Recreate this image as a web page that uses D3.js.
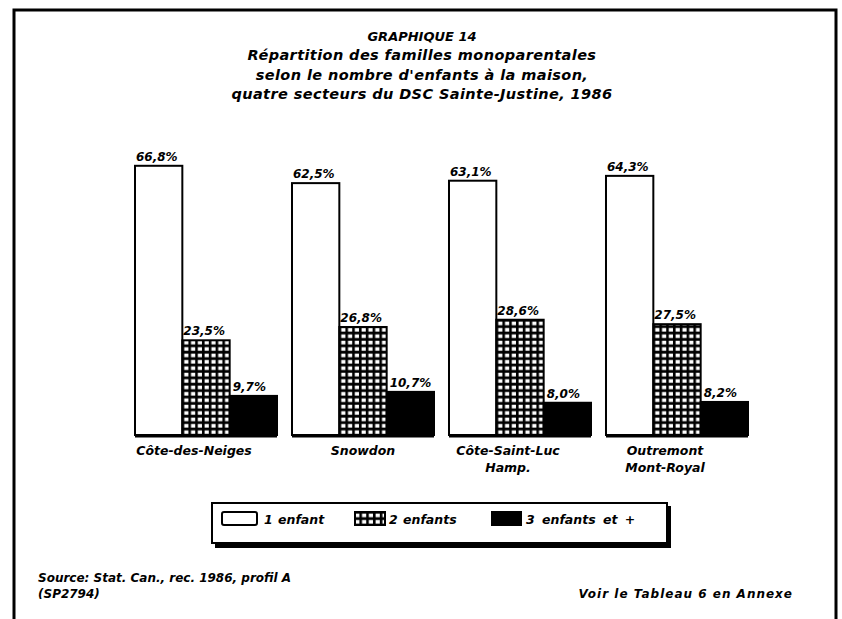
<!DOCTYPE html>
<html>
<head>
<meta charset="utf-8">
<script src="https://cdn.jsdelivr.net/npm/d3@7"></script>
<style>
  body { margin: 0; background: #fff; }
  svg { display: block; }
  text { font-family: "DejaVu Sans", sans-serif; font-weight: bold; font-style: italic; fill: #000; }
</style>
</head>
<body>
<div id="chart"></div>
<script>
// data
const categories = [['Côte-des-Neiges'], ['Snowdon'], ['Côte-Saint-Luc', 'Hamp.'], ['Outremont', 'Mont-Royal']];
const seriesNames = ['1 enfant', '2 enfants', '3 enfants et +'];
const oneChild = [66.8, 62.5, 63.1, 64.3];
const twoChildren = [23.5, 26.8, 28.6, 27.5];
const threePlus = [9.7, 10.7, 8.0, 8.2];
const titleLines = [
  'GRAPHIQUE 14',
  'Répartition des familles monoparentales',
  "selon le nombre d'enfants à la maison,",
  'quatre secteurs du DSC Sainte-Justine, 1986'
];
const sourceLines = ['Source: Stat. Can., rec. 1986, profil A', '(SP2794)'];
const noteText = 'Voir le Tableau 6 en Annexe';

const width = 842, height = 619;
const series = [oneChild, twoChildren, threePlus];
const fills = ['#fff', 'url(#grid)', '#000'];

const svg = d3.select('#chart').append('svg')
  .attr('width', width)
  .attr('height', height);

// grid hatch used for "2 enfants"
const defs = svg.append('defs');
const pat = defs.append('pattern')
  .attr('id', 'grid')
  .attr('patternUnits', 'userSpaceOnUse')
  .attr('width', 6.8)
  .attr('height', 6.4);
pat.append('rect').attr('width', 6.8).attr('height', 6.4).attr('fill', '#000');
pat.append('rect').attr('x', 1.6).attr('y', 1.6).attr('width', 4.2).attr('height', 3.6).attr('fill', '#fff');

// page frame (bottom edge is cut off in the scan)
svg.append('path')
  .attr('d', `M14,${height} V10 H836 V${height}`)
  .attr('fill', 'none')
  .attr('stroke', '#000')
  .attr('stroke-width', 3);

// title
svg.append('g').selectAll('text')
  .data(titleLines)
  .join('text')
  .attr('x', 422)
  .attr('y', (d, i) => 41 + i * 19.3)
  .attr('text-anchor', 'middle')
  .attr('font-size', (d, i) => i === 0 ? '13px' : '14.5px')
  .attr('letter-spacing', (d, i) => i === 0 ? 0 : 0.4)
  .text(d => d);

const x = d3.scaleBand()
  .domain(d3.range(categories.length))
  .range([135, 748])
  .paddingInner(0.0955)
  .paddingOuter(0);

const xInner = d3.scaleBand()
  .domain(d3.range(series.length))
  .range([0, x.bandwidth()]);

const y = d3.scaleLinear()
  .domain([0, 100])
  .range([435, 32]);

const groups = svg.append('g').selectAll('g')
  .data(categories)
  .join('g')
  .attr('transform', (d, i) => `translate(${x(i)},0)`);

groups.each(function(cat, ci) {
  const g = d3.select(this);
  series.forEach((vals, si) => {
    const v = vals[ci];
    g.append('rect')
      .attr('x', xInner(si))
      .attr('y', y(v))
      .attr('width', xInner.bandwidth())
      .attr('height', y(0) - y(v))
      .attr('fill', fills[si])
      .attr('stroke', '#000')
      .attr('stroke-width', 2);
    g.append('text')
      .attr('x', xInner(si) + (si === 2 ? 3 : 1))
      .attr('y', y(v) - 5)
      .attr('font-size', '12px')
      .text(d3.format('.1f')(v).replace('.', ',') + '%');
  });
  // baseline under the group
  g.append('line')
    .attr('x1', 0)
    .attr('x2', x.bandwidth())
    .attr('y1', y(0) + 1)
    .attr('y2', y(0) + 1)
    .attr('stroke', '#000')
    .attr('stroke-width', 3);
  // category label
  g.append('g').selectAll('text')
    .data(cat)
    .join('text')
    .attr('x', x.bandwidth() / 2 - (ci === 1 ? 0 : 12))
    .attr('y', (d, i) => 455 + i * 17)
    .attr('text-anchor', 'middle')
    .attr('font-size', '12.5px')
    .text(d => d);
});

// legend box with shadow
const legend = svg.append('g');
legend.append('rect')
  .attr('x', 215).attr('y', 506)
  .attr('width', 456).attr('height', 42)
  .attr('fill', '#000');
legend.append('rect')
  .attr('x', 212).attr('y', 503)
  .attr('width', 455).attr('height', 40)
  .attr('fill', '#fff')
  .attr('stroke', '#000')
  .attr('stroke-width', 2);

const legendItems = [
  { icon: 222, iconW: 35, text: 264 },
  { icon: 355, iconW: 30, text: 389 },
  { icon: 492, iconW: 29, text: 526 }
];
legendItems.forEach((it, i) => {
  legend.append('rect')
    .attr('x', it.icon).attr('y', 512)
    .attr('width', it.iconW).attr('height', 13)
    .attr('rx', i === 0 ? 2 : 0)
    .attr('fill', fills[i])
    .attr('stroke', '#000')
    .attr('stroke-width', 2);
  legend.append('text')
    .attr('x', it.text).attr('y', 524)
    .attr('font-size', '12.5px')
    .attr('word-spacing', i === 2 ? 3 : 1)
    .text(seriesNames[i]);
});

// footer
svg.append('g').selectAll('text')
  .data(sourceLines)
  .join('text')
  .attr('x', 38)
  .attr('y', (d, i) => 582 + i * 16)
  .attr('font-size', '12px')
  .text(d => d);

svg.append('text')
  .attr('x', 793)
  .attr('y', 598)
  .attr('text-anchor', 'end')
  .attr('font-size', '12px')
  .attr('letter-spacing', 1)
  .text(noteText);
</script>
</body>
</html>
